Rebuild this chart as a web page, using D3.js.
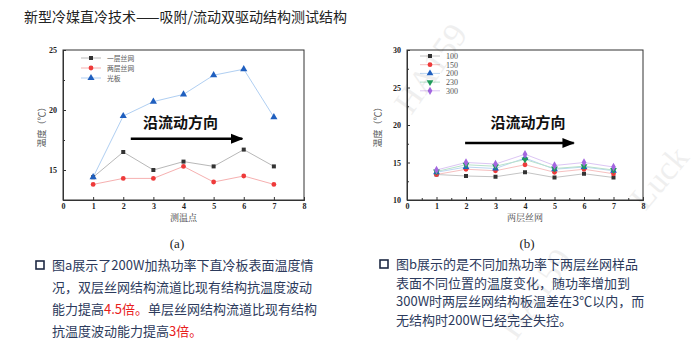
<!DOCTYPE html>
<html>
<head>
<meta charset="utf-8">
<script src="https://cdn.jsdelivr.net/npm/d3@7"></script>
<style>
  body { margin: 0; background: #fff; }
</style>
</head>
<body>
<div id="chart"></div>
<script>
// data
var pointsA = [1, 2, 3, 4, 5, 6, 7];
var namesA = ["一层丝网", "两层丝网", "光板"];
var oneLayer = [14.4, 16.5, 15.0, 15.7, 15.3, 16.7, 15.3];
var twoLayer = [13.8, 14.3, 14.3, 15.3, 14.0, 14.5, 13.8];
var plainPlate = [14.4, 19.5, 20.7, 21.3, 22.9, 23.4, 19.4];

var pointsB = [1, 2, 3, 4, 5, 6, 7];
var namesB = ["100", "150", "200", "230", "300"];
var p100 = [13.4, 13.2, 13.1, 13.7, 13.0, 13.5, 13.0];
var p150 = [13.4, 14.1, 13.9, 14.7, 13.7, 14.1, 13.5];
var p200 = [13.7, 14.4, 14.2, 15.6, 14.1, 14.4, 13.9];
var p230 = [13.8, 14.7, 14.5, 15.4, 14.2, 14.5, 14.0];
var p300 = [14.0, 15.0, 14.8, 16.1, 14.6, 15.0, 14.4];

var xTicks = [0, 1, 2, 3, 4, 5, 6, 7, 8];
var yTicksA = [15, 20, 25];
var yTicksB = [10, 15, 20, 25, 30];

var W = 700, H = 354;
var CJK = "Noto Sans CJK SC, Noto Sans, sans-serif";
var SERIF = "Liberation Serif, DejaVu Serif, serif";

var svg = d3.select("#chart").append("svg")
  .attr("width", W).attr("height", H)
  .attr("font-family", CJK);

svg.append("defs").append("marker")
  .attr("id", "arrow")
  .attr("viewBox", "0 0 10 10")
  .attr("refX", 9).attr("refY", 5)
  .attr("markerWidth", 5).attr("markerHeight", 5)
  .attr("orient", "auto")
  .append("path").attr("d", "M0,1 L10,5 L0,9 z").attr("fill", "#000");

// title
svg.append("text")
  .attr("x", 24).attr("y", 22)
  .attr("font-size", "14px")
  .attr("fill", "#222")
  .text("新型冷媒直冷技术——吸附/流动双驱动结构测试结构");

function drawPanel(cfg) {
  var x = d3.scaleLinear().domain([0, 8]).range([cfg.left, cfg.right]);
  var y = d3.scaleLinear().domain(cfg.yDomain).range([200, 50]);
  var g = svg.append("g");

  // frame
  g.append("rect")
    .attr("x", cfg.left).attr("y", 50)
    .attr("width", cfg.right - cfg.left).attr("height", 150)
    .attr("fill", "none").attr("stroke", "#333").attr("stroke-width", 1);

  g.append("g")
    .attr("transform", "translate(0,200)")
    .call(d3.axisBottom(x).tickValues(xTicks).tickSizeInner(-3).tickSizeOuter(0).tickPadding(3).tickFormat(d3.format("d")));
  g.append("g")
    .attr("transform", "translate(" + cfg.left + ",0)")
    .call(d3.axisLeft(y).tickValues(cfg.yTicks).tickSizeInner(-3).tickSizeOuter(0).tickPadding(6).tickFormat(d3.format("d")));

  // minor ticks
  g.append("g")
    .attr("transform", "translate(0,200)")
    .call(d3.axisBottom(x).tickValues(cfg.xMinor).tickSize(-2).tickFormat(""));
  g.append("g")
    .attr("transform", "translate(" + cfg.left + ",0)")
    .call(d3.axisLeft(y).tickValues(cfg.yMinor).tickSize(-2).tickFormat(""));

  g.selectAll(".domain").attr("stroke", "#333");
  g.selectAll(".tick line").attr("stroke", "#333");
  g.selectAll(".tick text")
    .attr("font-family", SERIF)
    .attr("font-weight", "bold")
    .attr("font-size", "8px")
    .attr("fill", "#222");

  // axis titles
  g.append("text")
    .attr("x", (cfg.left + cfg.right) / 2).attr("y", 221)
    .attr("text-anchor", "middle")
    .attr("font-family", "Noto Serif CJK SC, " + CJK)
    .attr("font-size", "9px").attr("fill", "#444")
    .text(cfg.xTitle);
  g.append("text")
    .attr("transform", "translate(" + cfg.yTitleX + ",125) rotate(-90)")
    .attr("text-anchor", "middle")
    .attr("font-size", "9px").attr("fill", "#555")
    .text("温度（℃）");

  // series
  cfg.series.forEach(function (s) {
    var line = d3.line()
      .x(function (d, i) { return x(cfg.points[i]); })
      .y(function (d) { return y(d); });
    g.append("path")
      .datum(s.values)
      .attr("d", line)
      .attr("fill", "none")
      .attr("stroke", s.lineColor)
      .attr("stroke-width", 1);
  });
  cfg.series.forEach(function (s) {
    g.selectAll(null)
      .data(s.values)
      .enter()
      .append("path")
      .attr("d", d3.symbol().type(s.symbol).size(s.size || 20))
      .attr("transform", function (d, i) {
        return "translate(" + x(cfg.points[i]) + "," + y(d) + ")" + (s.flip ? " rotate(180)" : "");
      })
      .attr("fill", s.color);
  });

  // legend
  cfg.series.forEach(function (s, i) {
    var ly = cfg.legendY + i * cfg.legendStep;
    g.append("line")
      .attr("x1", cfg.legendX).attr("x2", cfg.legendX + 20)
      .attr("y1", ly).attr("y2", ly)
      .attr("stroke", s.lineColor).attr("stroke-width", 1);
    g.append("path")
      .attr("d", d3.symbol().type(s.symbol).size(s.size || 20))
      .attr("transform", "translate(" + (cfg.legendX + 10) + "," + ly + ")" + (s.flip ? " rotate(180)" : ""))
      .attr("fill", s.color);
    g.append("text")
      .attr("x", cfg.legendX + 26).attr("y", ly + 3)
      .attr("font-family", cfg.legendFont)
      .attr("font-size", cfg.legendSize).attr("fill", "#555")
      .text(s.name);
  });

  // flow arrow
  g.append("line")
    .attr("x1", x(cfg.arrow[0])).attr("x2", x(cfg.arrow[1]))
    .attr("y1", y(17.6)).attr("y2", y(17.6))
    .attr("stroke", "#000").attr("stroke-width", 2.5)
    .attr("marker-end", "url(#arrow)");
  g.append("text")
    .attr("x", x(cfg.arrowText)).attr("y", 128)
    .attr("text-anchor", "middle")
    .attr("font-size", "15px").attr("font-weight", "bold").attr("fill", "#111")
    .text("沿流动方向");

  g.append("text")
    .attr("x", cfg.capX).attr("y", 248)
    .attr("text-anchor", "middle")
    .attr("font-family", SERIF)
    .attr("font-size", "13px").attr("fill", "#222")
    .text(cfg.caption);
}

drawPanel({
  left: 63, right: 304,
  yDomain: [12.5, 25], yTicks: yTicksA, yMinor: [17.5, 22.5],
  xMinor: [],
  points: pointsA,
  xTitle: "测温点", yTitleX: 45,
  legendX: 81, legendY: 58, legendStep: 10, legendFont: CJK, legendSize: "6.8px",
  arrow: [2.25, 5.95], arrowText: 3.9,
  capX: 177, caption: "(a)",
  series: [
    { name: namesA[0], values: oneLayer, color: "#333", lineColor: "#b8b8b8", symbol: d3.symbolSquare, size: 16 },
    { name: namesA[1], values: twoLayer, color: "#ee3a3a", lineColor: "#f6b0b0", symbol: d3.symbolCircle, size: 18 },
    { name: namesA[2], values: plainPlate, color: "#1f5fbf", lineColor: "#b0cff2", symbol: d3.symbolTriangle, size: 22 }
  ]
});

drawPanel({
  left: 407, right: 643,
  yDomain: [10, 30], yTicks: yTicksB, yMinor: [12.5, 17.5, 22.5, 27.5],
  xMinor: [0.5, 1.5, 2.5, 3.5, 4.5, 5.5, 6.5, 7.5],
  points: pointsB,
  xTitle: "两层丝网", yTitleX: 381,
  legendX: 420, legendY: 56, legendStep: 8.7, legendFont: SERIF, legendSize: "8px",
  arrow: [1.97, 5.65], arrowText: 4.1,
  capX: 527, caption: "(b)",
  series: [
    { name: namesB[0], values: p100, color: "#333", lineColor: "#c4c4c4", symbol: d3.symbolSquare, size: 16 },
    { name: namesB[1], values: p150, color: "#ee3a3a", lineColor: "#f6c0c0", symbol: d3.symbolCircle, size: 18 },
    { name: namesB[2], values: p200, color: "#1f5fbf", lineColor: "#bcd6f2", symbol: d3.symbolTriangle, size: 20 },
    { name: namesB[3], values: p230, color: "#1f9a5a", lineColor: "#b8e2cc", symbol: d3.symbolTriangle, size: 20, flip: true },
    { name: namesB[4], values: p300, color: "#a366e0", lineColor: "#dcc6f4", symbol: d3.symbolDiamond, size: 20 }
  ]
});

// watermark
[["HA159", 440, 75, -55], ["Luck", 668, 185, -50], ["HA159", 545, 300, -55]].forEach(function (w) {
  svg.append("text")
    .attr("transform", "translate(" + w[1] + "," + w[2] + ") rotate(" + w[3] + ")")
    .attr("text-anchor", "middle")
    .attr("font-family", SERIF)
    .attr("font-size", "34px")
    .attr("fill", "#000").attr("opacity", 0.06)
    .text(w[0]);
});

// bullet notes
var notesA = [
  [["图a展示了200W加热功率下直冷板表面温度情", false]],
  [["况，双层丝网结构流道比现有结构抗温度波动", false]],
  [["能力提高", false], ["4.5倍。", true], ["单层丝网结构流道比现有结构", false]],
  [["抗温度波动能力提高", false], ["3倍。", true]]
];
var notesB = [
  [["图b展示的是不同加热功率下两层丝网样品", false]],
  [["表面不同位置的温度变化，随功率增加到", false]],
  [["300W时两层丝网结构板温差在3℃以内，而", false]],
  [["无结构时200W已经完全失控。", false]]
];

function drawNotes(lines, bx, tx, y0, step) {
  svg.append("rect")
    .attr("x", bx - 4).attr("y", y0 - 9)
    .attr("width", 8).attr("height", 8)
    .attr("fill", "none").attr("stroke", "#1f2a44").attr("stroke-width", 1.6);
  lines.forEach(function (parts, i) {
    var t = svg.append("text")
      .attr("x", tx).attr("y", y0 + i * step)
      .attr("font-size", "13px");
    parts.forEach(function (p) {
      t.append("tspan").attr("fill", p[1] ? "#e8201c" : "#2c3a5c").text(p[0]);
    });
  });
}
drawNotes(notesA, 40, 52, 270, 22);
drawNotes(notesB, 384, 396, 269, 18.5);
</script>
</body>
</html>
